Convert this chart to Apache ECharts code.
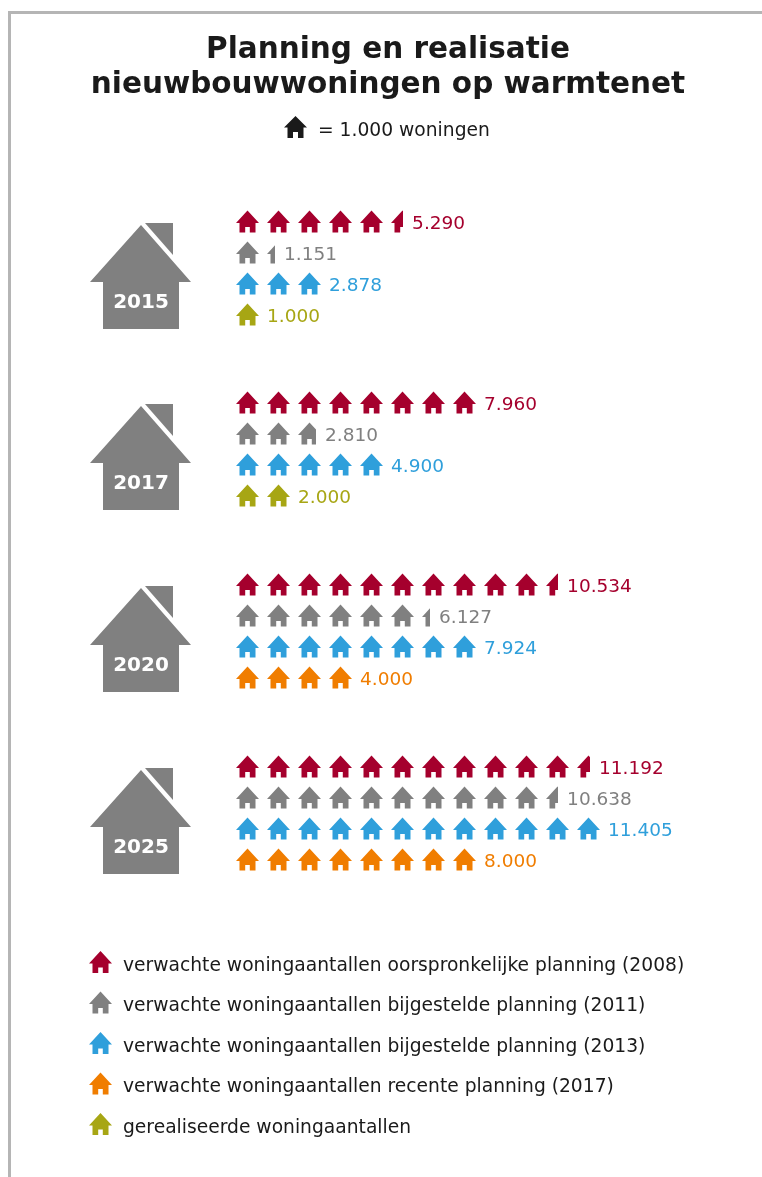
<!DOCTYPE html>
<html><head><meta charset="utf-8">
<style>html,body{margin:0;padding:0;background:#fff}#c{width:762px;height:1177px}</style>
<script src="https://cdn.jsdelivr.net/npm/echarts@6/dist/echarts.min.js"></script>
</head><body><div id="c"></div>
<script>
const years = ['2015', '2017', '2020', '2025'];
const planNames = [
  'verwachte woningaantallen oorspronkelijke planning (2008)',
  'verwachte woningaantallen bijgestelde planning (2011)',
  'verwachte woningaantallen bijgestelde planning (2013)',
  'verwachte woningaantallen recente planning (2017)',
  'gerealiseerde woningaantallen'
];
// Values printed beside each row: 2008, 2011, 2013, then the last row
const values2015 = [5290, 1151, 2878, 1000];
const values2017 = [7960, 2810, 4900, 2000];
const values2020 = [10534, 6127, 7924, 4000];
const values2025 = [11192, 10638, 11405, 8000];
// Length of each row as pictured, in houses (the source rounds and pads partial houses)
const pictured2015 = [5.52, 1.39, 3, 1];
const pictured2017 = [8, 2.71, 5, 2];
const pictured2020 = [10.52, 6.39, 8, 4];
const pictured2025 = [11.55, 10.52, 12, 8];
// Which legend entry the last row belongs to, per year
const lastRowPlan = [4, 4, 3, 3];
const colours = ['#a5002d', '#808080', '#2f9fdb', '#f07d00', '#a7a614'];

const allValues = [values2015, values2017, values2020, values2025];
const allPictured = [pictured2015, pictured2017, pictured2020, pictured2025];
const rowCats = ['a', 'b', 'c', 'd'];
const FONT = '"DejaVu Sans", sans-serif';
const HOUSE_D = 'M11.5 0 L23 12.5 L19.5 12.5 L19.5 22 L13.8 22 L13.8 16.5 L9.2 16.5 L9.2 22 L3.5 22 L3.5 12.5 L0 12.5 Z';
const HOUSE = 'path://' + HOUSE_D;
// Legend icon: same house, with an empty point below it so the text sits slightly lower than the icon
const LEGEND_HOUSE = 'path://' + HOUSE_D + ' M0 30 L0 30 Z';
const AXIS_MAX = 16;
const gridTops = [206, 387, 569, 751];
const fmt = v => String(v).replace(/\B(?=(\d{3})+$)/g, '.');

const grid = [], xAxis = [], yAxis = [], series = [], graphic = [];
graphic.push({type: 'polyline', silent: true, shape: {points: [[9.5, 1177], [9.5, 12.5], [762, 12.5]]},
  style: {stroke: '#b5b5b5', lineWidth: 3, fill: null}});
graphic.push({type: 'text', x: 388, y: 68, silent: true, style: {text: 'Planning en realisatie\nnieuwbouwwoningen op warmtenet',
  font: 'bold 29.5px ' + FONT, fill: '#1a1a1a', align: 'center', verticalAlign: 'middle', lineHeight: 35}});
graphic.push({type: 'polygon', silent: true, x: 284, y: 116,
  shape: {points: [[11.5,0],[23,11.5],[19.5,11.5],[19.5,22],[14,22],[14,16],[9,16],[9,22],[3.5,22],[3.5,11.5],[0,11.5]]},
  style: {fill: '#1a1a1a'}});
graphic.push({type: 'text', x: 318, y: 131, silent: true, style: {text: '= 1.000 woningen',
  font: '18.7px ' + FONT, fill: '#1a1a1a', verticalAlign: 'middle'}});

years.forEach((year, i) => {
  grid.push({left: 232, width: AXIS_MAX * 31, top: gridTops[i], height: 124, containLabel: false});
  xAxis.push({type: 'value', gridIndex: i, min: 0, max: AXIS_MAX, show: false});
  yAxis.push({type: 'category', gridIndex: i, data: rowCats, inverse: true, show: false});
  const dy = gridTops[i] - gridTops[0];
  graphic.push({type: 'polygon', silent: true, x: 0, y: dy,
    shape: {points: [[141,225],[191,282],[179,282],[179,329],[103,329],[103,282],[90,282]]},
    style: {fill: '#808080'}});
  graphic.push({type: 'polygon', silent: true, x: 0, y: dy,
    shape: {points: [[145,223],[173,223],[173,255]]}, style: {fill: '#808080'}});
  graphic.push({type: 'text', silent: true, x: 141, y: 303 + dy,
    style: {text: year, font: 'bold 20px ' + FONT, fill: '#fff', align: 'center', verticalAlign: 'middle'}});

  rowCats.forEach((cat, r) => {
    const plan = r === 3 ? lastRowPlan[i] : r;
    const len = allPictured[i][r];
    const whole = Number.isInteger(len);
    series.push({
      type: 'pictorialBar', name: planNames[plan], xAxisIndex: i, yAxisIndex: i,
      symbol: HOUSE, symbolSize: [23, 22], symbolRepeat: 'fixed', symbolMargin: '4!',
      symbolClip: true, symbolBoundingData: AXIS_MAX, symbolPosition: 'start',
      barWidth: 24, itemStyle: {color: colours[plan]}, silent: true, animation: false,
      data: rowCats.map((c, k) => k === r ? len : '-')
    });
    series.push({
      type: 'scatter', xAxisIndex: i, yAxisIndex: i, symbolSize: 0, silent: true, animation: false,
      itemStyle: {opacity: 1},
      data: [{value: [len, cat], label: {show: true, position: 'right', distance: whole ? 4 : 9, offset: [0, 3],
        formatter: fmt(allValues[i][r]), color: colours[plan], fontFamily: FONT, fontSize: 18.5}}]
    });
  });
});

const chart = echarts.init(document.getElementById('c'), null, {renderer: 'canvas'});
chart.setOption({
  animation: false, backgroundColor: '#fff', grid, xAxis, yAxis, series, graphic,
  legend: {
    orient: 'vertical', left: 84, top: 946, itemGap: 10.5, itemWidth: 23, itemHeight: 30,
    selectedMode: false, icon: LEGEND_HOUSE,
    data: planNames,
    textStyle: {fontFamily: FONT, fontSize: 18.7, color: '#1a1a1a', padding: [0, 0, 0, 6]}
  }
});
</script></body></html>
